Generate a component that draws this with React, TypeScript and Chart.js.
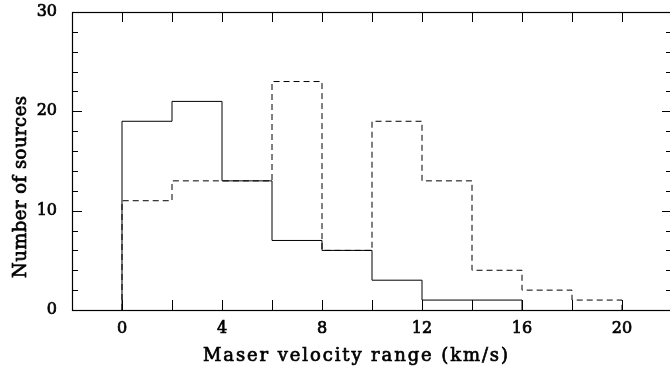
import React, { useEffect, useRef } from "react";
import { Chart, registerables } from "chart.js";
Chart.register(...registerables);

// Bin left edges (km/s) and counts
const binEdges = [0, 2, 4, 6, 8, 10, 12, 14, 16, 18];
const solidCounts = [19, 21, 13, 7, 6, 3, 1, 1];
const dashedCounts = [11, 13, 13, 23, 6, 19, 13, 4, 2, 1];
const binWidth = 2;
const xTickLabels = [0, 4, 8, 12, 16, 20];
const yTickLabels = [0, 10, 20, 30];
const xTitle = "Maser velocity range (km/s)";
const yTitle = "Number of sources";

function histPoints(counts: number[]) {
  const pts: { x: number; y: number }[] = [{ x: binEdges[0], y: 0 }];
  counts.forEach((c, i) => pts.push({ x: binEdges[i], y: c }));
  pts.push({ x: binEdges[counts.length - 1] + binWidth, y: 0 });
  return pts;
}

const FONT = "'DejaVu Serif', 'Liberation Serif', serif";
const STROKE = 0.7;

const framePlugin = {
  id: "frameTicks",
  afterDraw(chart: any) {
    const { ctx, chartArea, scales } = chart;
    const xs = scales.x;
    const ys = scales.y;
    const L = chartArea.left, R = chartArea.right, T = chartArea.top, B = chartArea.bottom;
    ctx.save();
    ctx.strokeStyle = "#000";
    ctx.lineWidth = 1.2;
    ctx.setLineDash([]);
    ctx.strokeRect(L + 0.5, T + 0.5, R - L, B - T);
    ctx.lineWidth = 1;
    ctx.beginPath();
    for (let v = -2; v <= 22; v += 2) {
      const px = Math.round(xs.getPixelForValue(v)) + 0.5;
      if (px <= L + 1 || px >= R - 1) continue;
      ctx.moveTo(px, B);
      ctx.lineTo(px, B - 10);
      ctx.moveTo(px, T);
      ctx.lineTo(px, T + 10);
    }
    for (let v = 0; v <= 30; v += 2) {
      const py = Math.round(ys.getPixelForValue(v)) + 0.5;
      if (py <= T + 1 || py >= B - 1) continue;
      const len = v % 10 === 0 ? 10 : 6;
      ctx.moveTo(L, py);
      ctx.lineTo(L + len, py);
      ctx.moveTo(R, py);
      ctx.lineTo(R - len, py);
    }
    ctx.stroke();

    // axis titles
    ctx.fillStyle = "#000";
    ctx.lineWidth = STROKE;
    ctx.font = `18px ${FONT}`;
    const fit = (text: string, target: number) => {
      (ctx as any).letterSpacing = "0px";
      const w0 = ctx.measureText(text).width;
      const ls = (target - w0) / (text.length - 1);
      (ctx as any).letterSpacing = `${ls}px`;
    };
    ctx.textAlign = "left";
    ctx.textBaseline = "alphabetic";
    fit(xTitle, 305);
    ctx.fillText(xTitle, 203, 361);
    ctx.strokeText(xTitle, 203, 361);
    ctx.save();
    ctx.translate(26, 278);
    ctx.rotate(-Math.PI / 2);
    fit(yTitle, 182);
    ctx.fillText(yTitle, 0, 0);
    ctx.strokeText(yTitle, 0, 0);
    ctx.restore();
    (ctx as any).letterSpacing = "0px";
    ctx.restore();
  },
};

export default function App() {
  const ref = useRef<HTMLCanvasElement>(null);
  useEffect(() => {
    if (!ref.current) return;
    const chart = new Chart(ref.current, {
      type: "line",
      data: {
        datasets: [
          {
            data: histPoints(solidCounts),
            borderColor: "#000",
            borderWidth: 1,
            stepped: "before",
            pointRadius: 0,
            fill: false,
          },
          {
            data: histPoints(dashedCounts),
            borderColor: "#000",
            borderWidth: 1,
            borderDash: [6, 4],
            stepped: "before",
            pointRadius: 0,
            fill: false,
          },
        ],
      },
      options: {
        animation: false,
        responsive: false,
        devicePixelRatio: 1,
        layout: { padding: { left: 0, top: 12, right: 28, bottom: 0 } },
        plugins: { legend: { display: false }, tooltip: { enabled: false } },
        scales: {
          x: {
            type: "linear",
            min: -2,
            max: 22,
            grid: { display: false, drawTicks: false },
            border: { display: false },
            afterFit: (s: any) => { s.height = 62; s.paddingLeft = 0; s.paddingRight = 0; },
            ticks: {
              stepSize: 2,
              autoSkip: false,
              maxRotation: 0,
              padding: 9,
              color: "#000",
              textStrokeColor: "#000",
              textStrokeWidth: STROKE,
              font: { family: FONT, size: 16 },
              callback: (v: any) => (xTickLabels.includes(Number(v)) ? String(v) : ""),
            },
          },
          y: {
            type: "linear",
            min: 0,
            max: 30,
            grid: { display: false, drawTicks: false },
            border: { display: false },
            afterFit: (s: any) => { s.width = 72; s.paddingTop = 0; s.paddingBottom = 0; },
            ticks: {
              stepSize: 10,
              padding: 15,
              color: "#000",
              textStrokeColor: "#000",
              textStrokeWidth: STROKE,
              font: { family: FONT, size: 16 },
              callback: (v: any) => (yTickLabels.includes(Number(v)) ? String(v) : ""),
            },
          },
        },
      },
      plugins: [framePlugin],
    });
    return () => chart.destroy();
  }, []);
  return (
    <div style={{ position: "fixed", left: 0, top: 0, width: 670, height: 372, overflow: "hidden", background: "#fff" }}>
      <canvas ref={ref} width={700} height={372} style={{ display: "block" }} />
    </div>
  );
}
